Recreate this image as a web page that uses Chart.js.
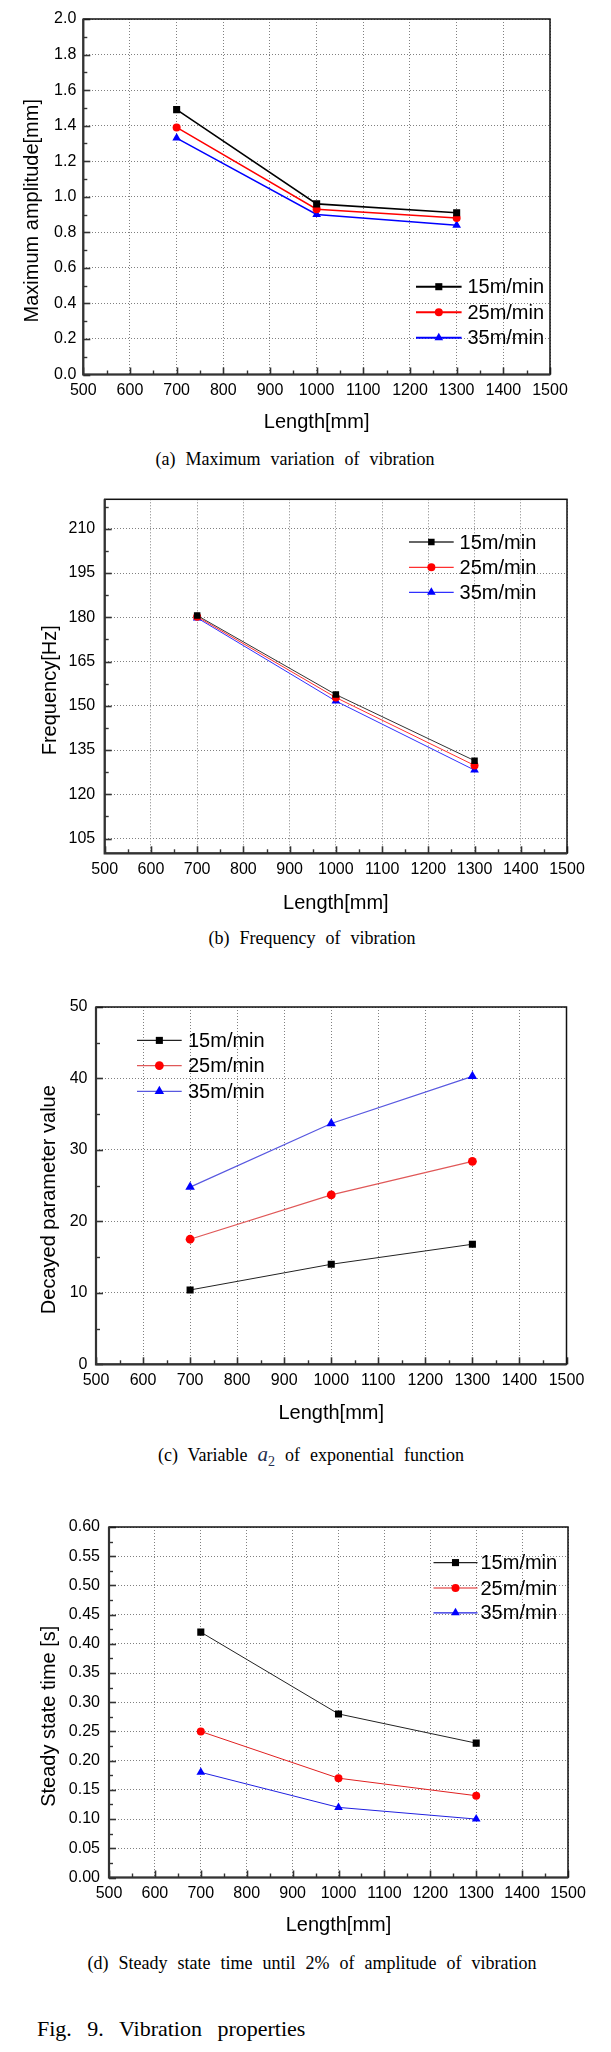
<!DOCTYPE html>
<html>
<head>
<meta charset="utf-8">
<title>Fig. 9. Vibration properties</title>
<script src="https://cdn.jsdelivr.net/npm/chart.js@4.4.1/dist/chart.umd.min.js"></script>
<style>
  html, body { margin: 0; padding: 0; background: #fff; }
  body { width: 611px; height: 2052px; position: relative; overflow: hidden; }
  canvas { position: absolute; left: 0; }
  .cap {
    position: absolute;
    font-family: "Liberation Serif", "Times New Roman", serif;
    font-size: 18px;
    word-spacing: 5.5px;
    color: #000;
    white-space: nowrap;
    transform: translate(-50%, -50%);
  }
  .cap i { font-size: 21px; color: #1f2f4f; }
  .cap sub { font-size: 14px; color: #1f2f4f; vertical-align: -5px; }
  .fig {
    position: absolute;
    left: 37px;
    top: 2029px;
    transform: translateY(-50%);
    font-family: "Liberation Serif", "Times New Roman", serif;
    font-size: 22px;
    word-spacing: 10px;
    white-space: nowrap;
  }
</style>
</head>
<body>
<canvas id="chartA" width="611" height="440" style="top:0px"></canvas>
<div class="cap" style="left:295px;top:459px">(a) Maximum variation of vibration</div>

<canvas id="chartB" width="611" height="450" style="top:470px"></canvas>
<div class="cap" style="left:312px;top:938px">(b) Frequency of vibration</div>

<canvas id="chartC" width="611" height="460" style="top:975px"></canvas>
<div class="cap" style="left:311px;top:1456px">(c) Variable <i>a</i><sub>2</sub> of exponential function</div>

<canvas id="chartD" width="611" height="450" style="top:1495px"></canvas>
<div class="cap" style="left:312px;top:1963px">(d) Steady state time until 2% of amplitude of vibration</div>

<div class="fig">Fig. 9. Vibration properties</div>

<script>
// data
var lengths = [700, 1000, 1300];
var seriesLabels = ['15m/min', '25m/min', '35m/min'];
var xTicks = [500, 600, 700, 800, 900, 1000, 1100, 1200, 1300, 1400, 1500];

// (a) maximum amplitude [mm]
var ampTicks = [0, 0.2, 0.4, 0.6, 0.8, 1.0, 1.2, 1.4, 1.6, 1.8, 2.0];
var amp15 = [1.49, 0.96, 0.91];
var amp25 = [1.39, 0.93, 0.88];
var amp35 = [1.33, 0.90, 0.84];

// (b) frequency [Hz]
var freqTicks = [105, 120, 135, 150, 165, 180, 195, 210];
var freq15 = [180.6, 153.8, 131.4];
var freq25 = [180.2, 152.8, 129.8];
var freq35 = [179.8, 151.6, 128.2];

// (c) decayed parameter value
var decayTicks = [0, 10, 20, 30, 40, 50];
var decay15 = [10.4, 14.0, 16.8];
var decay25 = [17.5, 23.7, 28.4];
var decay35 = [24.8, 33.7, 40.3];

// (d) steady state time [s]
var steadyTicks = [0, 0.05, 0.10, 0.15, 0.20, 0.25, 0.30, 0.35, 0.40, 0.45, 0.50, 0.55, 0.60];
var steady15 = [0.42, 0.28, 0.23];
var steady25 = [0.25, 0.17, 0.14];
var steady35 = [0.18, 0.12, 0.10];

var SANS = '"Liberation Sans", Arial, sans-serif';

function xy(ys) {
    return lengths.map(function (x, i) { return {x: x, y: ys[i]}; });
}

function series(label, ys, color, lineColor, style, radius, width) {
    return {
        label: label,
        data: xy(ys),
        borderColor: lineColor,
        backgroundColor: color,
        pointBackgroundColor: color,
        pointBorderColor: color,
        pointBorderWidth: 0,
        pointStyle: style,
        pointRadius: radius,
        borderWidth: width,
        tension: 0,
        fill: false
    };
}

// minor ticks halfway between the major ones
function minorOf(ticks, min, max) {
    var step = ticks[1] - ticks[0];
    var out = [];
    for (var v = ticks[0] - step / 2; v <= max + 1e-9; v += step / 2) {
        if (v < min - 1e-9) continue;
        var isMajor = ticks.some(function (t) { return Math.abs(t - v) < 1e-9; });
        if (!isMajor) out.push(v);
    }
    return out;
}

function drawMarker(ctx, style, r, x, y, color) {
    ctx.fillStyle = color;
    ctx.beginPath();
    if (style === 'rect') {
        var s = Math.SQRT1_2 * r;
        ctx.rect(x - s, y - s, 2 * s, 2 * s);
    } else if (style === 'triangle') {
        var a = 0;
        ctx.moveTo(x + Math.sin(a) * r, y - Math.cos(a) * r);
        a += Math.PI * 2 / 3;
        ctx.lineTo(x + Math.sin(a) * r, y - Math.cos(a) * r);
        a += Math.PI * 2 / 3;
        ctx.lineTo(x + Math.sin(a) * r, y - Math.cos(a) * r);
        ctx.closePath();
    } else {
        ctx.arc(x, y, r, 0, Math.PI * 2);
    }
    ctx.fill();
}

// Origin style frame with inward ticks, plus the y title (sits a bit below centre)
var originFrame = {
    id: 'originFrame',
    afterDraw: function (chart, args, opts) {
        var ctx = chart.ctx, a = chart.chartArea;
        var xs = chart.scales.x, ys = chart.scales.y;
        ctx.save();
        ctx.strokeStyle = '#333';

        function tickX(vals, len, w) {
            ctx.lineWidth = w;
            vals.forEach(function (v) {
                var px = Math.round(xs.getPixelForValue(v)) + 0.5;
                ctx.beginPath();
                ctx.moveTo(px, a.bottom);
                ctx.lineTo(px, a.bottom - len);
                ctx.stroke();
            });
        }
        function tickY(vals, len, w) {
            ctx.lineWidth = w;
            vals.forEach(function (v) {
                var py = Math.round(ys.getPixelForValue(v)) + 0.5;
                ctx.beginPath();
                ctx.moveTo(a.left, py);
                ctx.lineTo(a.left + len, py);
                ctx.stroke();
            });
        }
        tickX(opts.xMajor, 7, 1.6);
        tickX(opts.xMinor, 4, 1.4);
        tickY(opts.yMajor, 7, 1.6);
        tickY(opts.yMinor, 4, 1.4);

        ctx.strokeStyle = '#111';
        ctx.lineWidth = 1.5;
        ctx.strokeRect(a.left, a.top, a.right - a.left, a.bottom - a.top);
        ctx.strokeStyle = '#333';
        ctx.lineWidth = 2.2;
        ctx.beginPath();
        ctx.moveTo(a.left, a.top);
        ctx.lineTo(a.left, a.bottom);
        ctx.lineTo(a.right, a.bottom);
        ctx.stroke();

        // y axis title
        ctx.translate(opts.yTitleX, (a.top + a.bottom) / 2 + opts.yTitleShift);
        ctx.rotate(-Math.PI / 2);
        ctx.fillStyle = '#000';
        ctx.font = '20px ' + SANS;
        ctx.textAlign = 'center';
        ctx.textBaseline = 'middle';
        ctx.fillText(opts.yTitle, 0, 0);
        ctx.restore();
    }
};

// legend: short line with the marker in its middle, then the label
var originLegend = {
    id: 'originLegend',
    afterDraw: function (chart, args, opts) {
        var ctx = chart.ctx;
        ctx.save();
        chart.data.datasets.forEach(function (ds, i) {
            var y = opts.rows[i];
            ctx.strokeStyle = ds.borderColor;
            ctx.lineWidth = opts.lineWidth;
            ctx.beginPath();
            ctx.moveTo(opts.x1, y);
            ctx.lineTo(opts.x2, y);
            ctx.stroke();
            drawMarker(ctx, ds.pointStyle, ds.pointRadius, (opts.x1 + opts.x2) / 2, y, ds.pointBackgroundColor);
            ctx.fillStyle = '#000';
            ctx.font = '20px ' + SANS;
            ctx.textAlign = 'left';
            ctx.textBaseline = 'middle';
            ctx.fillText(ds.label, opts.tx, y + 1);
        });
        ctx.restore();
    }
};

function makeChart(id, c) {
    var ctx = document.getElementById(id).getContext('2d');
    var H = ctx.canvas.height;
    return new Chart(ctx, {
        type: 'line',
        data: { datasets: c.datasets },
        plugins: [originFrame, originLegend],
        options: {
            responsive: false,
            devicePixelRatio: 1,
            animation: false,
            events: [],
            layout: { padding: { top: c.top, right: 611 - c.right, bottom: 0, left: 0 } },
            plugins: {
                legend: { display: false },
                tooltip: { enabled: false },
                originFrame: {
                    xMajor: xTicks,
                    xMinor: minorOf(xTicks, 500, 1500),
                    yMajor: c.yTicks,
                    yMinor: minorOf(c.yTicks, c.yMin, c.yMax),
                    yTitle: c.yTitle,
                    yTitleX: c.yTitleX,
                    yTitleShift: 14
                },
                originLegend: c.legend
            },
            scales: {
                x: {
                    type: 'linear',
                    min: 500,
                    max: 1500,
                    afterBuildTicks: function (s) {
                        s.ticks = xTicks.map(function (v) { return {value: v}; });
                    },
                    afterFit: function (s) { s.height = H - c.bottom; },
                    grid: { color: '#808080', lineWidth: 1, drawTicks: false },
                    border: { display: false, dash: [1, 2] },
                    ticks: {
                        autoSkip: false,
                        maxRotation: 0,
                        padding: 6.5,
                        color: '#000',
                        font: { family: SANS, size: 16 },
                        callback: function (v) { return String(v); }
                    },
                    title: {
                        display: true,
                        text: 'Length[mm]',
                        color: '#000',
                        font: { family: SANS, size: 20 },
                        padding: { top: 0, bottom: c.xTitlePad }
                    }
                },
                y: {
                    type: 'linear',
                    min: c.yMin,
                    max: c.yMax,
                    afterBuildTicks: function (s) {
                        s.ticks = c.yTicks.map(function (v) { return {value: v}; });
                    },
                    afterFit: function (s) { s.width = c.left; },
                    grid: { color: '#808080', lineWidth: 1, drawTicks: false },
                    border: { display: false, dash: [1, 2] },
                    ticks: {
                        autoSkip: false,
                        padding: c.yLabelPad,
                        color: '#000',
                        font: { family: SANS, size: 16 },
                        callback: function (v) { return Number(v).toFixed(c.dec); }
                    },
                    title: { display: false }
                }
            }
        }
    });
}

// (a)
makeChart('chartA', {
    datasets: [
        series(seriesLabels[0], amp15, '#000000', '#000000', 'rect', 5, 1.6),
        series(seriesLabels[1], amp25, '#ff0000', '#ff0000', 'circle', 4, 1.5),
        series(seriesLabels[2], amp35, '#0000ff', '#0000ff', 'triangle', 5, 1.5)
    ],
    yMin: 0, yMax: 2.0, yTicks: ampTicks, dec: 1,
    yTitle: 'Maximum amplitude[mm]', yTitleX: 32.5,
    left: 83.3, right: 550, top: 19, bottom: 374.5,
    yLabelPad: 7, xTitlePad: 5.3,
    legend: { x1: 416, x2: 461.6, tx: 467.4, rows: [286.7, 312.3, 337.7], lineWidth: 2 }
});

// (b)
makeChart('chartB', {
    datasets: [
        series(seriesLabels[0], freq15, '#000000', '#333333', 'rect', 4.6, 1),
        series(seriesLabels[1], freq25, '#ff0000', '#ff3030', 'circle', 4, 1),
        series(seriesLabels[2], freq35, '#0000ff', '#3030ff', 'triangle', 5, 1)
    ],
    yMin: 100, yMax: 220, yTicks: freqTicks, dec: 0,
    yTitle: 'Frequency[Hz]', yTitleX: 50.6,
    left: 104.7, right: 567, top: 29.3, bottom: 383.3,
    yLabelPad: 9.5, xTitlePad: 5,
    legend: { x1: 409, x2: 453.7, tx: 459.6, rows: [72, 97.3, 122.3], lineWidth: 1.3 }
});

// (c)
makeChart('chartC', {
    datasets: [
        series(seriesLabels[0], decay15, '#000000', '#222222', 'rect', 5, 1),
        series(seriesLabels[1], decay25, '#ff0000', '#e05858', 'circle', 4.4, 1.2),
        series(seriesLabels[2], decay35, '#0000ff', '#5858e0', 'triangle', 5.5, 1.2)
    ],
    yMin: 0, yMax: 50, yTicks: decayTicks, dec: 0,
    yTitle: 'Decayed parameter value', yTitleX: 49,
    left: 96, right: 566.5, top: 32, bottom: 389.3,
    yLabelPad: 8.5, xTitlePad: 10,
    legend: { x1: 137, x2: 181.7, tx: 188, rows: [65.4, 90.6, 116.3], lineWidth: 1.3 }
});

// (d)
makeChart('chartD', {
    datasets: [
        series(seriesLabels[0], steady15, '#000000', '#222222', 'rect', 5, 1),
        series(seriesLabels[1], steady25, '#ff0000', '#e02020', 'circle', 4, 1),
        series(seriesLabels[2], steady35, '#0000ff', '#2020e0', 'triangle', 5, 1)
    ],
    yMin: 0, yMax: 0.60, yTicks: steadyTicks, dec: 2,
    yTitle: 'Steady state time [s]', yTitleX: 49,
    left: 109, right: 568, top: 32, bottom: 382.5,
    yLabelPad: 9, xTitlePad: 7.3,
    legend: { x1: 433.5, x2: 477.5, tx: 480.5, rows: [67.6, 93, 117.8], lineWidth: 1.2 }
});
</script>
</body>
</html>
